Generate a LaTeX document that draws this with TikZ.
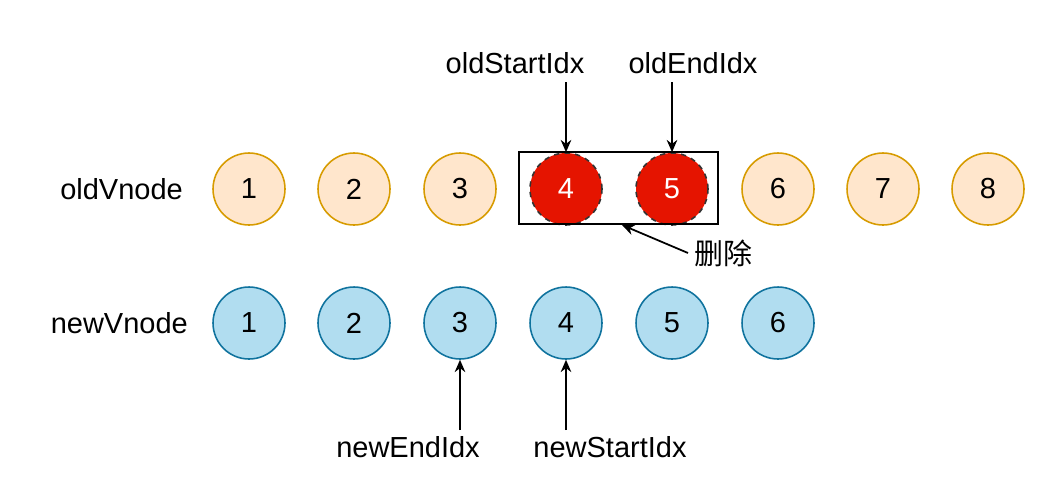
\documentclass[tikz,border=0pt]{standalone}
\usepackage{fontspec}
\setmainfont{Liberation Sans}
\newfontfamily\cjk{Noto Sans CJK SC}
\definecolor{oldfill}{RGB}{255,230,204}
\definecolor{olddraw}{RGB}{215,155,0}
\definecolor{newfill}{RGB}{177,221,240}
\definecolor{newdraw}{RGB}{16,115,158}
\definecolor{delfill}{RGB}{229,20,0}
\usetikzlibrary{positioning,arrows.meta}
\tikzset{
  vnode/.style={circle, minimum size=1.44cm, inner sep=0pt, line width=0.9pt, font=\fontsize{16.5}{19}\selectfont},
  oldv/.style={vnode, fill=oldfill, draw=olddraw},
  newv/.style={vnode, fill=newfill, draw=newdraw},
  delv/.style={vnode, fill=delfill, draw=black!80, dashed, text=white},
  lbl/.style={font=\fontsize{16.5}{19}\selectfont},
  ptr/.style={-{Stealth[length=7pt,width=6pt]}, line width=1pt},
}
\begin{document}
\begin{tikzpicture}[x=0.02cm, y=-0.02cm]
  \useasboundingbox (0,0) rectangle (1060,484);
  \node [lbl, anchor=east] (oldlbl) at (189,189) {oldVnode};
  \node [lbl, anchor=east] (newlbl) at (194,323) {newVnode};

  % old vnodes
  \foreach \i/\x in {1/249,2/354,3/460,6/778,7/883,8/988} {
    \node [oldv] (o\i) at (\x,189) {\i};
  }
  \node [delv] (o4) at (566,189) {4};
  \node [delv] (o5) at (672,189) {5};
  \draw [line width=0.9pt] (519,152) rectangle (718,224);
  \coordinate (boxbot) at (622,225);

  % new vnodes
  \foreach \i/\x in {1/249,2/354,3/460,4/566,5/672,6/778} {
    \node [newv] (n\i) at (\x,323) {\i};
  }

  % pointers
  \node [lbl] (os) at (515,63) {oldStartIdx};
  \node [lbl] (oe) at (693,63) {oldEndIdx};
  \draw [ptr] (566,82) -- (o4);
  \draw [ptr] (672,82) -- (o5);
  \node [lbl, anchor=west] (del) at (688,253) {\cjk 删除};
  \draw [ptr] (del.west) -- (boxbot);
  \node [lbl] (ne) at (408,447) {newEndIdx};
  \node [lbl] (ns) at (610,447) {newStartIdx};
  \draw [ptr] (460,430) -- (n3);
  \draw [ptr] (566,430) -- (n4);
\end{tikzpicture}
\end{document}
